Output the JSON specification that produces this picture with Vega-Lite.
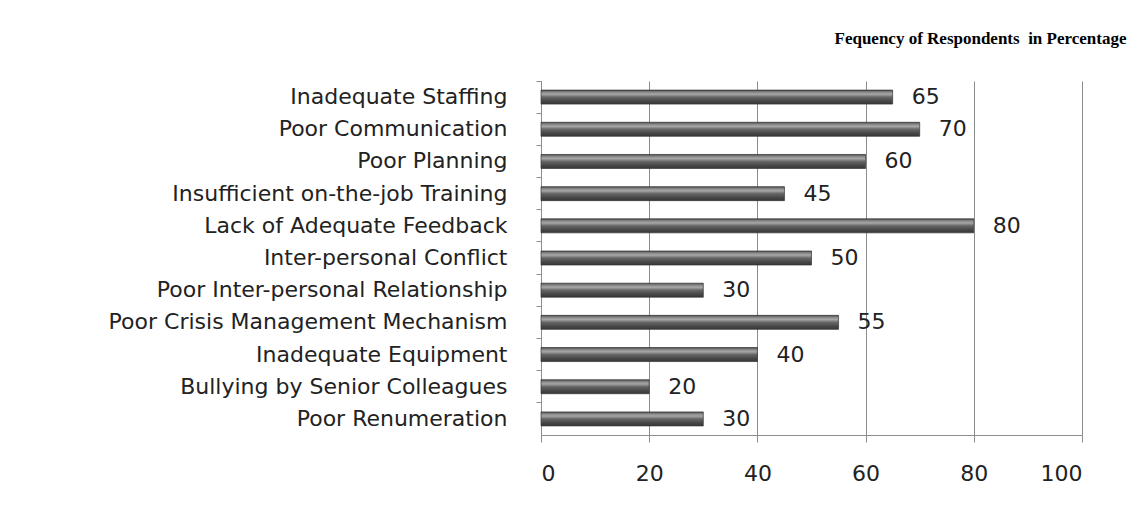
{
  "$schema": "https://vega.github.io/schema/vega-lite/v6.json",
  "autosize": "none",
  "width": 541,
  "height": 354,
  "padding": {"left": 541, "top": 81, "right": 45, "bottom": 71},
  "background": "white",
  "title": {
    "text": "Fequency of Respondents\u00a0 in Percentage",
    "anchor": "end",
    "font": "Liberation Serif",
    "fontSize": 17,
    "fontWeight": "bold",
    "color": "#000000",
    "dx": 44,
    "offset": 33
  },
  "data": {
    "values": [
      {"factor": "Inadequate Staffing ", "pct": 65},
      {"factor": "Poor Communication", "pct": 70},
      {"factor": "Poor Planning", "pct": 60},
      {"factor": "Insufficient on-the-job Training", "pct": 45},
      {"factor": "Lack of Adequate Feedback", "pct": 80},
      {"factor": "Inter-personal Conflict ", "pct": 50},
      {"factor": "Poor Inter-personal  Relationship ", "pct": 30},
      {"factor": "Poor Crisis Management Mechanism ", "pct": 55},
      {"factor": "Inadequate Equipment", "pct": 40},
      {"factor": "Bullying by Senior Colleagues", "pct": 20},
      {"factor": "Poor Renumeration", "pct": 30}
    ]
  },
  "encoding": {
    "y": {
      "field": "factor",
      "type": "nominal",
      "sort": null,
      "scale": {"paddingInner": 0, "paddingOuter": 0},
      "axis": {
        "title": null,
        "bandPosition": 0,
        "domainColor": "#8c8c8c",
        "domainWidth": 1,
        "tickColor": "#8c8c8c",
        "tickSize": 5,
        "labelPadding": 29,
        "labelLimit": 0,
        "labelFont": "DejaVu Sans",
        "labelFontSize": 22,
        "labelColor": "#222222",
        "grid": false
      }
    },
    "x": {
      "field": "pct",
      "type": "quantitative",
      "scale": {"domain": [0, 100], "nice": false},
      "axis": {
        "title": null,
        "values": [0, 20, 40, 60, 80, 100],
        "grid": true,
        "gridColor": "#8c8c8c",
        "gridWidth": 1,
        "domainColor": "#8c8c8c",
        "tickColor": "#8c8c8c",
        "tickSize": 7,
        "labelPadding": 21,
        "labelFont": "DejaVu Sans",
        "labelFontSize": 22,
        "labelColor": "#222222"
      }
    }
  },
  "layer": [
    {
      "mark": {
        "type": "bar",
        "height": 14,
        "stroke": "#333333",
        "strokeWidth": 0.7,
        "color": {
          "gradient": "linear",
          "x1": 0, "y1": 0, "x2": 0, "y2": 1,
          "stops": [
            {"offset": 0, "color": "#4a4a4a"},
            {"offset": 0.15, "color": "#8a8a8a"},
            {"offset": 0.3, "color": "#a6a6a6"},
            {"offset": 0.5, "color": "#666666"},
            {"offset": 0.8, "color": "#454545"},
            {"offset": 1, "color": "#383838"}
          ]
        }
      }
    },
    {
      "mark": {
        "type": "text",
        "align": "left",
        "baseline": "middle",
        "dx": 19,
        "font": "DejaVu Sans",
        "fontSize": 22,
        "color": "#222222"
      },
      "encoding": {"text": {"field": "pct", "type": "quantitative"}}
    }
  ],
  "config": {"view": {"stroke": null}}
}
